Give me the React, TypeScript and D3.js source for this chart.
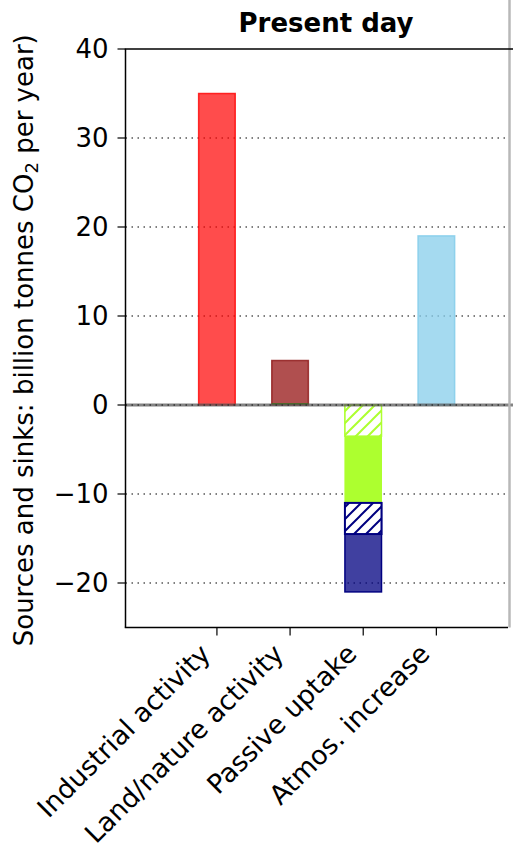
import React from "react";
import * as d3 from "d3";

const categories = ["Industrial activity", "Land/nature activity", "Passive uptake", "Atmos. increase"];
const sourceValues = [35, 5, 0, 19];
const sourceFills = ["rgba(255,0,0,0.7)", "rgba(150,20,20,0.75)", "none", "rgba(135,206,235,0.75)"];
const sourceEdges = ["rgba(255,0,0,0.8)", "rgba(140,20,20,0.8)", "none", "rgba(135,206,235,0.9)"];
const landSinkTotal = [0, 0, -11, 0];
const landSinkHatched = [0, 0, -3.5, 0];
const oceanSinkTotal = [0, 0, -10, 0];
const oceanSinkHatched = [0, 0, -3.5, 0];
const yTicks = [-20, -10, 0, 10, 20, 30, 40];
const gridTicks = [-20, -10, 10, 20, 30];

const W = 513, H = 850;
const left = 125.5, right = 509.5, top = 49, bottom = 627.5;

export default function App() {
  const x = d3.scaleLinear().domain([-1.25, 4.0]).range([left, right]);
  const y = d3.scaleLinear().domain([-25, 40]).range([bottom, top]);
  const bw = x(0.5) - x(0);
  const font = "DejaVu Sans, sans-serif";
  const fs = 26;

  const rect = (i: number, v0: number, v1: number, fill: string, stroke: string, sw: number, key: string) => {
    const y0 = y(Math.max(v0, v1));
    const y1 = y(Math.min(v0, v1));
    return (
      <rect key={key} x={x(i) - bw / 2} y={y0} width={bw} height={y1 - y0}
        fill={fill} stroke={stroke} strokeWidth={sw} />
    );
  };

  return (
    <svg width={W} height={H} style={{ position: "absolute", left: 0, top: 0, display: "block", background: "#fff" }}>
      <defs>
        <pattern id="hatchGreen" patternUnits="userSpaceOnUse" width="12" height="12">
          <rect width="12" height="12" fill="#fff" />
          <path d="M-3,3 L3,-3 M0,12 L12,0 M9,15 L15,9" stroke="#adff2f" strokeWidth="2" />
        </pattern>
        <pattern id="hatchBlue" patternUnits="userSpaceOnUse" width="12" height="12">
          <rect width="12" height="12" fill="#fff" />
          <path d="M-3,3 L3,-3 M0,12 L12,0 M9,15 L15,9" stroke="#000080" strokeWidth="2" />
        </pattern>
      </defs>

      {/* grid */}
      {gridTicks.map(t => (
        <line key={"g" + t} x1={left} x2={right} y1={y(t)} y2={y(t)} stroke="#555" strokeWidth={1.4} strokeDasharray="1.5,4.5" />
      ))}

      {/* bars */}
      {categories.map((c, i) => (
        <g key={c}>
          {sourceValues[i] !== 0 && rect(i, 0, sourceValues[i], sourceFills[i], sourceEdges[i], 1.5, "s" + i)}
          {landSinkTotal[i] !== 0 && rect(i, 0, landSinkTotal[i], "#adff2f", "#adff2f", 1, "l" + i)}
          {landSinkHatched[i] !== 0 && rect(i, 0, landSinkHatched[i], "url(#hatchGreen)", "#adff2f", 1.5, "lh" + i)}
          {oceanSinkTotal[i] !== 0 && rect(i, landSinkTotal[i], landSinkTotal[i] + oceanSinkTotal[i], "rgba(0,0,128,0.75)", "#000080", 1.5, "o" + i)}
          {oceanSinkHatched[i] !== 0 && rect(i, landSinkTotal[i], landSinkTotal[i] + oceanSinkHatched[i], "url(#hatchBlue)", "#000080", 2, "oh" + i)}
        </g>
      ))}
      <line x1={x(1) - bw / 2} x2={x(1) + bw / 2} y1={y(0) - 1} y2={y(0) - 1} stroke="#2a7a00" strokeWidth={1.5} />

      {/* zero line */}
      <line x1={left} x2={W} y1={y(0)} y2={y(0)} stroke="rgba(90,90,90,0.75)" strokeWidth={3} />
      <line x1={left} x2={W} y1={y(0)} y2={y(0)} stroke="#333" strokeWidth={1.3} strokeDasharray="1.5,4.5" />

      {/* right grey line */}
      <line x1={509.5} x2={509.5} y1={0} y2={bottom} stroke="#b8b8b8" strokeWidth={2.5} />

      {/* spines */}
      <line x1={left} x2={left} y1={top} y2={bottom} stroke="#000" strokeWidth={1.5} />
      <line x1={left - 0.75} x2={508} y1={bottom} y2={bottom} stroke="#000" strokeWidth={1.5} />
      <line x1={left - 0.75} x2={W} y1={top} y2={top} stroke="#000" strokeWidth={1.5} />

      {/* y ticks */}
      {yTicks.map(t => (
        <g key={"yt" + t}>
          <line x1={left - 8} x2={left} y1={y(t)} y2={y(t)} stroke="#000" strokeWidth={1.2} />
          <text x={left - 17} y={y(t)} dy="0.36em" textAnchor="end" fontFamily={font} fontSize={fs} fill="#000">
            {t < 0 ? "\u2212" + Math.abs(t) : String(t)}
          </text>
        </g>
      ))}

      {/* x ticks and labels */}
      {categories.map((c, i) => (
        <g key={"xt" + c}>
          <line x1={x(i)} x2={x(i)} y1={bottom} y2={bottom + 8} stroke="#000" strokeWidth={1.2} />
          <text transform={`translate(${x(i) - 5},${bottom + 28}) rotate(-45)`} textAnchor="end"
            fontFamily={font} fontSize={26.6} fill="#000">{c}</text>
        </g>
      ))}

      {/* y label */}
      <text transform={`translate(33,${(top + bottom) / 2 + 2}) rotate(-90)`} textAnchor="middle"
        fontFamily={font} fontSize={fs} fill="#000">
        Sources and sinks: billion tonnes CO<tspan fontSize={18} dy="5">2</tspan><tspan dy="-5"> per year)</tspan>
      </text>

      {/* title */}
      <text x={326} y={32} textAnchor="middle" fontFamily={font} fontSize={fs} fontWeight="bold" fill="#000">Present day</text>
    </svg>
  );
}
